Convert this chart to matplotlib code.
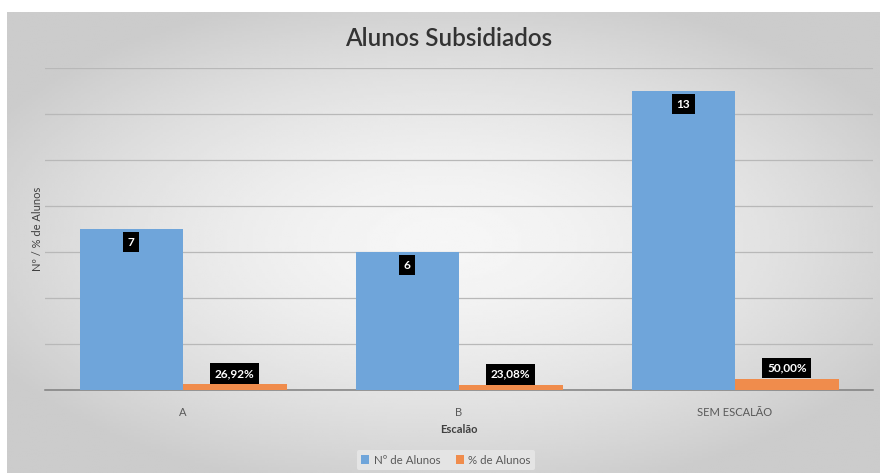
import numpy as np
import matplotlib
matplotlib.use('Agg')
import matplotlib.pyplot as plt

plt.rcParams['font.family'] = ['Lato', 'DejaVu Sans']

CATEGORIES = ['A', 'B', 'SEM ESCALÃO']
N_ALUNOS = [7, 6, 13]
PCT_ALUNOS = [0.2692, 0.2308, 0.5000]
PCT_LABELS = ['26,92%', '23,08%', '50,00%']
SERIES = ['Nº de Alunos', '% de Alunos']

BLUE = '#6fa5da'
ORANGE = '#f08c4c'

fig = plt.figure(figsize=(8.8, 4.73), dpi=100)

# soft radial panel behind the chart
bg = fig.add_axes([7 / 880, 0, 1 - 7 / 880, 1 - 12 / 473])
yy, xx = np.mgrid[-1:1:200j, -1:1:300j]
r = np.sqrt((xx / 1.05) ** 2 + (yy / 1.0) ** 2)
shade = np.clip(0.965 - 0.14 * r ** 1.6, 0.80, 0.97)
bg.imshow(shade, cmap='gray', vmin=0, vmax=1, aspect='auto',
          extent=[0, 1, 0, 1], interpolation='bilinear')
bg.set_axis_off()

ax = fig.add_axes([45 / 880, 1 - 390 / 473, 828 / 880, 322 / 473])
ax.patch.set_alpha(0)
x = np.arange(len(CATEGORIES))
w = 0.375
b1 = ax.bar(x - w / 2, N_ALUNOS, w, color=BLUE, label=SERIES[0], zorder=3)
b2 = ax.bar(x + w / 2, PCT_ALUNOS, w, color=ORANGE, label=SERIES[1], zorder=3)

ax.set_xlim(-0.5, 2.5)
ax.set_ylim(0, 14)
ax.set_yticks(np.arange(0, 15, 2))
ax.yaxis.grid(True, color='#b8b8b8', linewidth=0.9, zorder=0)
ax.tick_params(axis='y', left=False, labelleft=False)
ax.tick_params(axis='x', bottom=False, labelsize=8, colors='#595959', pad=9)
ax.set_xticks(x)
ax.set_xticklabels(CATEGORIES)
for s in ['top', 'right', 'left']:
    ax.spines[s].set_visible(False)
ax.spines['bottom'].set_color('#7f7f7f')
ax.spines['bottom'].set_linewidth(1.1)

box = dict(boxstyle='square,pad=0.4', fc='black', ec='none')
for rect, v in zip(b1, N_ALUNOS):
    ax.annotate(str(v), (rect.get_x() + rect.get_width() / 2, v),
                xytext=(0, -9.5), textcoords='offset points',
                ha='center', va='center', color='white', fontsize=8.5,
                fontweight='bold', bbox=box, zorder=5)
for rect, v, lab in zip(b2, PCT_ALUNOS, PCT_LABELS):
    ax.annotate(lab, (rect.get_x() + rect.get_width() / 2, v),
                xytext=(0, 3.5), textcoords='offset points',
                ha='center', va='bottom', color='white', fontsize=8.5,
                fontweight='bold', bbox=box, zorder=5)

ax.set_xlabel('Escalão', fontsize=8, color='#404040', labelpad=4, fontweight='bold')
fig.text(37 / 880, 1 - 229 / 473, 'Nº / % de Alunos', rotation=90,
         ha='center', va='center', fontsize=8, color='#404040')
fig.text(449 / 880, 1 - 38 / 473, 'Alunos Subsidiados', ha='center',
         va='center', fontsize=17.5, color='#333333', fontweight='semibold')

leg = fig.legend(handles=[b1, b2], loc='center', bbox_to_anchor=(446 / 880, 1 - 460 / 473),
                 ncol=2, frameon=True, fontsize=8.3, handlelength=0.7,
                 handleheight=0.7, handletextpad=0.4, columnspacing=1.3,
                 borderpad=0.4)
leg.get_frame().set_facecolor('#e4e4e4')
leg.get_frame().set_edgecolor('none')
leg.get_frame().set_alpha(1)
for t in leg.get_texts():
    t.set_color('#595959')

fig.savefig('out.png', dpi=100)
